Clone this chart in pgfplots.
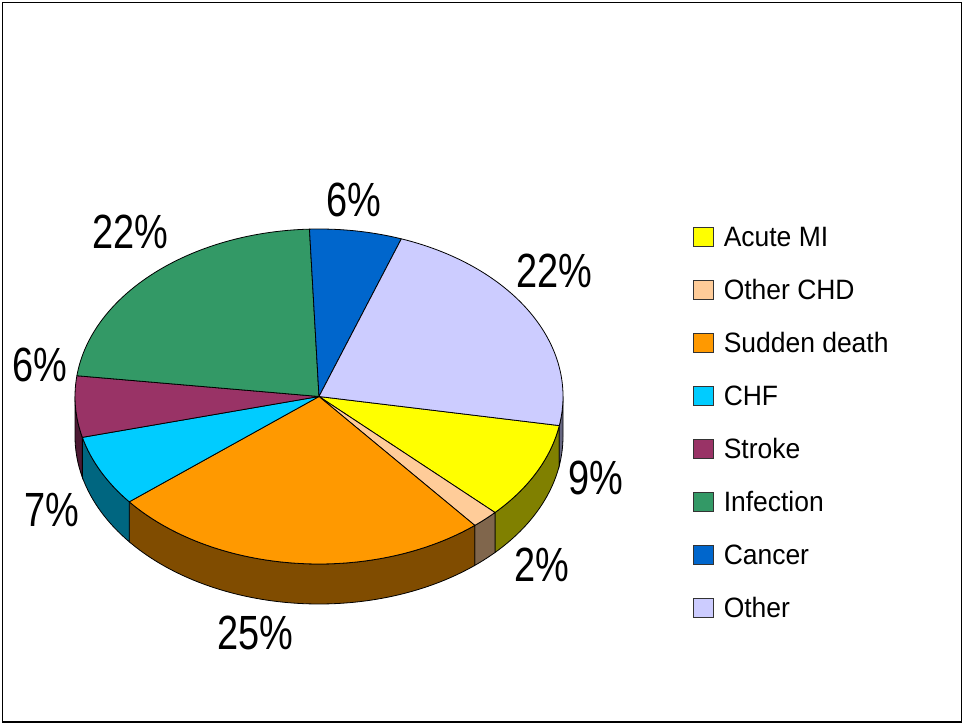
\documentclass[border=0pt]{standalone}
\usepackage{pgfplots}
\pgfplotsset{compat=1.18}
\usepackage{pgfplotstable}
\usepackage{fontspec}
\setmainfont{Liberation Sans}
\newfontfamily\labfont[FakeStretch=0.79]{Liberation Sans}
\newfontfamily\legfont[FakeStretch=0.945]{Liberation Sans}

\definecolor{c0}{RGB}{255,255,0}
\definecolor{c1}{RGB}{255,204,153}
\definecolor{c2}{RGB}{255,153,0}
\definecolor{c3}{RGB}{0,204,255}
\definecolor{c4}{RGB}{153,51,102}
\definecolor{c5}{RGB}{51,153,102}
\definecolor{c6}{RGB}{0,102,204}
\definecolor{c7}{RGB}{204,204,255}

% name, share (%), label position (pixels, baseline centre)
\pgfplotstableread[col sep=comma]{
name,value,lx,ly
Acute MI,9.4,595.5,495
Other CHD,1.8,541.5,582
Sudden death,25.2,255,650
CHF,6.9,51.5,527
Stroke,5.9,40,382
Infection,22.4,130,249
Cancer,6.1,353.5,217
Other,22.3,554,288
}\piedata

\pgfmathsetmacro\cumang{-10}
\pgfplotsforeachungrouped \i in {0,...,7}{%
  \pgfplotstablegetelem{\i}{value}\of\piedata
  \let\myV\pgfplotsretval
  \pgfmathsetmacro\myS{\cumang}%
  \pgfmathsetmacro\myE{\cumang-3.6*\myV}%
  \pgfmathtruncatemacro\myP{round(\myV)}%
  \expandafter\xdef\csname pc\i\endcsname{\myP}%
  \expandafter\xdef\csname sa\i\endcsname{\myS}%
  \expandafter\xdef\csname ea\i\endcsname{\myE}%
  \pgfmathsetmacro\ua{min(\myS,0)}%
  \pgfmathsetmacro\ub{max(\myE,-180)}%
  \pgfmathsetmacro\uf{\ua-\ub}%
  \expandafter\xdef\csname fa\i\endcsname{\uf}%
  \expandafter\xdef\csname aa\i\endcsname{\ua}%
  \expandafter\xdef\csname ba\i\endcsname{\ub}%
  \pgfmathsetmacro\ua{min(\myS,-360)}%
  \pgfmathsetmacro\ub{max(\myE,-540)}%
  \pgfmathsetmacro\uf{\ua-\ub}%
  \expandafter\xdef\csname fb\i\endcsname{\uf}%
  \expandafter\xdef\csname ab\i\endcsname{\ua}%
  \expandafter\xdef\csname bb\i\endcsname{\ub}%
  \pgfplotstablegetelem{\i}{name}\of\piedata
  \expandafter\xdef\csname nm\i\endcsname{\pgfplotsretval}%
  \pgfplotstablegetelem{\i}{lx}\of\piedata
  \expandafter\xdef\csname lx\i\endcsname{\pgfplotsretval}%
  \pgfplotstablegetelem{\i}{ly}\of\piedata
  \pgfmathsetmacro\myY{724-\pgfplotsretval}%
  \expandafter\xdef\csname ly\i\endcsname{\myY}%
  \pgfmathsetmacro\myL{724-(237+53*\i)}%
  \expandafter\xdef\csname lg\i\endcsname{\myL}%
  \xdef\cumang{\myE}%
}

\begin{document}
\begin{tikzpicture}
\begin{axis}[
  scale only axis, width=723pt, height=543pt,
  xmin=0, xmax=964, ymin=0, ymax=724,
  hide axis, clip=false]
\path (axis cs:0,0) rectangle (axis cs:964,724);
\draw[line width=0.8pt] (axis cs:2.5,2) rectangle (axis cs:961.5,721.5);
% visible side faces
\pgfplotsinvokeforeach{0,...,7}{%
  \ifdim\csname fa#1\endcsname pt>0pt
    \filldraw[fill=c#1!50!black, draw=black, line width=0.6pt]
      (axis cs:319,327.5) ++(\csname aa#1\endcsname:183pt and 125.625pt)
      arc[start angle=\csname aa#1\endcsname, end angle=\csname ba#1\endcsname, x radius=183pt, y radius=125.625pt]
      -- ++(0pt,-30pt)
      arc[start angle=\csname ba#1\endcsname, end angle=\csname aa#1\endcsname, x radius=183pt, y radius=125.625pt]
      -- cycle;
  \fi
  \ifdim\csname fb#1\endcsname pt>0pt
    \filldraw[fill=c#1!50!black, draw=black, line width=0.6pt]
      (axis cs:319,327.5) ++(\csname ab#1\endcsname:183pt and 125.625pt)
      arc[start angle=\csname ab#1\endcsname, end angle=\csname bb#1\endcsname, x radius=183pt, y radius=125.625pt]
      -- ++(0pt,-30pt)
      arc[start angle=\csname bb#1\endcsname, end angle=\csname ab#1\endcsname, x radius=183pt, y radius=125.625pt]
      -- cycle;
  \fi
}
% top faces
\pgfplotsinvokeforeach{0,...,7}{%
  \filldraw[fill=c#1, draw=black, line width=0.6pt, line join=round]
    (axis cs:319,327.5) -- ++(\csname sa#1\endcsname:183pt and 125.625pt)
    arc[start angle=\csname sa#1\endcsname, end angle=\csname ea#1\endcsname, x radius=183pt, y radius=125.625pt]
    -- cycle;
}
% percentage labels
\pgfplotsinvokeforeach{0,...,7}{%
  \node[anchor=base, inner sep=0pt, font=\labfont\fontsize{36pt}{36pt}\selectfont]
    at (axis cs:\csname lx#1\endcsname,\csname ly#1\endcsname) {\csname pc#1\endcsname\%};
}
% legend
\pgfplotsinvokeforeach{0,...,7}{%
  \filldraw[fill=c#1, draw=black!80, line width=0.6pt]
    (axis cs:693,\csname lg#1\endcsname) ++(0pt,-7pt) rectangle ++(15pt,14pt);
  \node[anchor=base west, inner sep=0pt, font=\legfont\fontsize{21pt}{21pt}\selectfont]
    at (axis cs:723.5,\csname lg#1\endcsname) [yshift=-7.2pt] {\csname nm#1\endcsname};
}
\end{axis}
\end{tikzpicture}
\end{document}
